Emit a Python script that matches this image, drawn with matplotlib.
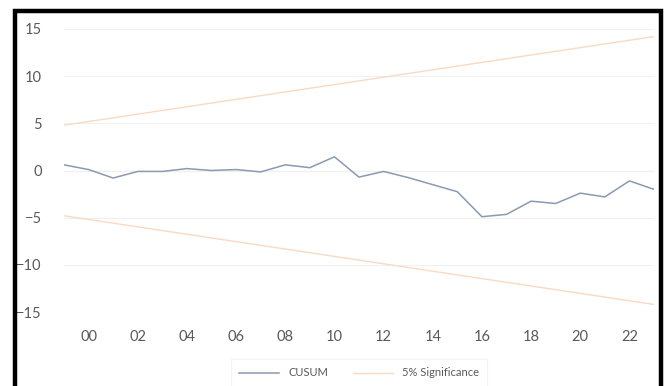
import matplotlib
matplotlib.use("Agg")
import matplotlib.pyplot as plt
from matplotlib.patches import Rectangle

# CUSUM values, one per year
years = list(range(1999, 2024))
cusum = [0.6, 0.1, -0.8, -0.1, -0.1, 0.2, 0.0, 0.1, -0.15, 0.6, 0.3, 1.45,
         -0.7, -0.1, -0.75, -1.5, -2.25, -4.9, -4.65, -3.25, -3.5, -2.4,
         -2.8, -1.1, -2.0]

# 5% significance bounds (straight lines, read at both ends)
sig_years = [1999, 2023]
sig_upper = [4.8, 14.2]
sig_lower = [-4.8, -14.2]

tick_years = list(range(2000, 2023, 2))
tick_labels = [f"{y % 100:02d}" for y in tick_years]
y_ticks = [-15, -10, -5, 0, 5, 10, 15]

plt.rcParams["font.family"] = ["Lato", "DejaVu Sans"]
TXT = "#595959"

fig = plt.figure(figsize=(6.64, 3.86), dpi=100)
ax = fig.add_axes([64 / 664, 1 - 312 / 386, (654 - 64) / 664, (312 - 29) / 386])

ax.plot(years, cusum, color="#8a9ab0", lw=1.1, label="CUSUM")
ax.plot(sig_years, sig_upper, color="#f9dac4", lw=1.0, label="5% Significance")
ax.plot(sig_years, sig_lower, color="#f9dac4", lw=1.0)

ax.set_xlim(1999, 2023)
ax.set_ylim(-15, 15)
ax.set_xticks(tick_years)
ax.set_xticklabels(tick_labels)
ax.set_yticks(y_ticks)
ax.tick_params(axis="both", length=0, colors=TXT, labelsize=10.5)
ax.tick_params(axis="x", pad=13)
ax.tick_params(axis="y", pad=16)

ax.grid(axis="y", color="#f0f0f0", lw=0.8)
ax.axhline(0, color="#e0e0e0", lw=0.8, zorder=0)
for s in ax.spines.values():
    s.set_visible(False)

leg = ax.legend(loc="center", bbox_to_anchor=(0.5, (373 - 312) / -(312 - 29)),
                ncol=2, frameon=True, fontsize=8, handlelength=3.6,
                columnspacing=2.2, borderpad=0.5)
leg.get_frame().set_edgecolor("#f0f0f0")
leg.get_frame().set_linewidth(0.8)
leg.get_frame().set_boxstyle("square")
for t in leg.get_texts():
    t.set_color(TXT)

# black frame around the picture
fig.patches.append(Rectangle((14.5 / 664, -0.1), (660.5 - 14.5) / 664, 1.1 - 11 / 386,
                             transform=fig.transFigure, fill=False,
                             edgecolor="black", lw=3.2))

fig.savefig("out.png", dpi=100)
